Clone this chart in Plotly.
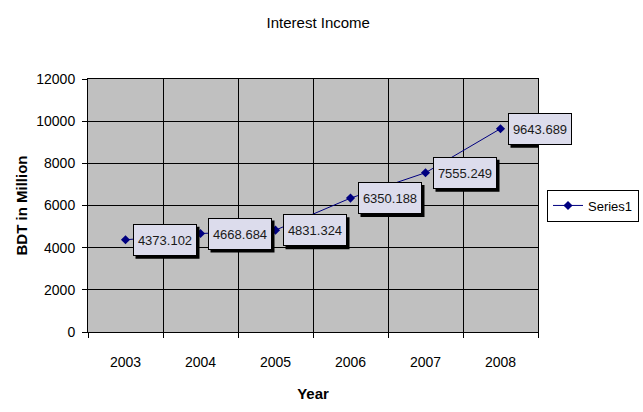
import plotly.graph_objects as go

years = ["2003", "2004", "2005", "2006", "2007", "2008"]
income = [4373.102, 4668.684, 4831.324, 6350.188, 7555.249, 9643.689]
label_texts = ["4373.102", "4668.684", "4831.324", "6350.188", "7555.249", "9643.689"]

FONT = "Liberation Sans, Arial, sans-serif"

fig = go.Figure()
fig.add_trace(go.Scatter(
    x=years, y=income, mode="lines+markers", name="Series1",
    line=dict(color="#000080", width=1),
    marker=dict(symbol="diamond", size=7, color="#000080"),
))

annotations = []
shapes = []
for i, (y, t) in enumerate(zip(income, label_texts)):
    # drop shadow behind the label box
    shapes.append(dict(
        type="rect", xref="x", yref="y", xsizemode="pixel", ysizemode="pixel",
        xanchor=i, yanchor=y, x0=10, x1=74, y0=-19, y1=13,
        fillcolor="#000000", line=dict(width=0), layer="above",
    ))
    annotations.append(dict(
        x=i, y=y, xref="x", yref="y", text=t, showarrow=False,
        xanchor="left", yanchor="middle", xshift=7, yshift=0,
        width=56, height=24,
        font=dict(family=FONT, size=13, color="#1a1a1a"),
        bgcolor="#DCDCEC", bordercolor="#000000", borderwidth=1, borderpad=3,
    ))

fig.update_layout(
    width=643, height=412,
    paper_bgcolor="#FFFFFF", plot_bgcolor="#C0C0C0",
    margin=dict(l=88, r=105, t=79, b=80, autoexpand=False),
    font=dict(family=FONT, color="#000000"),
    title=dict(text="Interest Income", x=0.495, xanchor="center", y=0.945, yanchor="middle",
               font=dict(family=FONT, size=15, color="#000000")),
    showlegend=True,
    legend=dict(x=1.02, xanchor="left", y=0.5, yanchor="middle",
                bgcolor="#FFFFFF", bordercolor="#000000", borderwidth=1,
                font=dict(family=FONT, size=13, color="#000000"),
                itemwidth=30, tracegroupgap=0),
    annotations=annotations,
    shapes=shapes,
    xaxis=dict(
        type="category", range=[-0.5, 5.5], tickson="boundaries", automargin=False,
        showgrid=True, gridcolor="#000000", gridwidth=1,
        ticks="outside", ticklen=5, tickcolor="#000000",
        showline=True, linecolor="#000000", linewidth=1, mirror=True,
        ticklabelstandoff=17,
        tickfont=dict(family=FONT, size=14, color="#000000"),
        title=dict(text="<b>Year</b>", font=dict(family=FONT, size=15, color="#000000"), standoff=19),
    ),
    yaxis=dict(
        range=[0, 12000], dtick=2000, tickformat="d", automargin=False,
        showgrid=True, gridcolor="#000000", gridwidth=1,
        ticks="outside", ticklen=5, tickcolor="#000000",
        showline=True, linecolor="#000000", linewidth=1, mirror=True,
        zeroline=False, ticklabelstandoff=4,
        tickfont=dict(family=FONT, size=14, color="#000000"),
        title=dict(text="<b>BDT in Million</b>", font=dict(family=FONT, size=15, color="#000000"), standoff=5),
    ),
)

fig.write_html("out.html", config={"displayModeBar": False},
               post_script="document.body.style.margin='0';")
